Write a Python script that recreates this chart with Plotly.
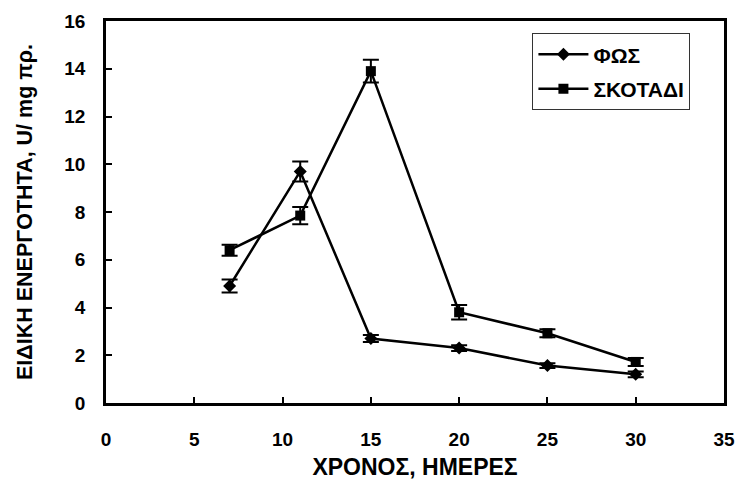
import plotly.graph_objects as go

# Χρόνος (ημέρες)
days = [7, 11, 15, 20, 25, 30]

# Ειδική ενεργότητα, U/mg πρωτεΐνης
light = [4.9, 9.7, 2.7, 2.3, 1.57, 1.2]
light_err = [0.27, 0.42, 0.15, 0.12, 0.1, 0.12]

dark = [6.4, 7.85, 13.9, 3.8, 2.92, 1.72]
dark_err = [0.23, 0.36, 0.48, 0.3, 0.17, 0.17]

light_name = "ΦΩΣ"
dark_name = "ΣΚΟΤΑΔΙ"

x_ticks = [0, 5, 10, 15, 20, 25, 30, 35]
y_ticks = [0, 2, 4, 6, 8, 10, 12, 14, 16]

FONT = "Liberation Sans, Arial, sans-serif"


def bold(s):
    return f"<b>{s}</b>"


fig = go.Figure()

fig.add_trace(go.Scatter(
    x=days, y=light, name=bold(light_name), legendgroup="a",
    mode="lines+markers",
    line=dict(color="black", width=2.5),
    marker=dict(symbol="diamond", size=10, color="black"),
    error_y=dict(type="data", array=light_err, visible=True,
                 color="black", thickness=2, width=8),
))

fig.add_trace(go.Scatter(
    x=days, y=dark, name=bold(dark_name), legendgroup="b",
    mode="lines+markers",
    line=dict(color="black", width=2.5),
    marker=dict(symbol="square", size=10, color="black"),
    error_y=dict(type="data", array=dark_err, visible=True,
                 color="black", thickness=2, width=8),
))

tick_font = dict(family=FONT, size=19, color="black")

fig.update_layout(
    width=737, height=480,
    margin=dict(l=106, r=13, t=21, b=77, autoexpand=False),
    paper_bgcolor="white", plot_bgcolor="white",
    font=dict(family=FONT, color="black"),
    showlegend=True,
    legend=dict(
        x=0.69, y=0.968, xanchor="left", yanchor="top",
        bgcolor="white", bordercolor="#333", borderwidth=1,
        font=dict(family=FONT, size=21, color="black"),
        tracegroupgap=4, itemwidth=50,
    ),
    xaxis=dict(
        range=[0, 35], tickvals=x_ticks, ticktext=[bold(v) for v in x_ticks],
        ticks="inside", ticklen=6, tickwidth=2, tickcolor="black",
        showline=True, linewidth=2.5, linecolor="black", mirror=True,
        showgrid=False, zeroline=False, automargin=False,
        tickfont=tick_font, ticklabelstandoff=17,
        title=dict(text=bold("ΧΡΟΝΟΣ, ΗΜΕΡΕΣ"),
                   font=dict(family=FONT, size=23, color="black"),
                   standoff=11),
    ),
    yaxis=dict(
        range=[0, 16], tickvals=y_ticks, ticktext=[bold(v) for v in y_ticks],
        ticks="inside", ticklen=6, tickwidth=2, tickcolor="black",
        showline=True, linewidth=2.5, linecolor="black", mirror=True,
        showgrid=False, zeroline=False, automargin=False,
        tickfont=tick_font, ticklabelstandoff=14,
        title=dict(text=bold("ΕΙΔΙΚΗ ΕΝΕΡΓΟΤΗΤΑ, U/ mg πρ."),
                   font=dict(family=FONT, size=21.5, color="black"),
                   standoff=26),
    ),
)

fig.write_html("out.html")
